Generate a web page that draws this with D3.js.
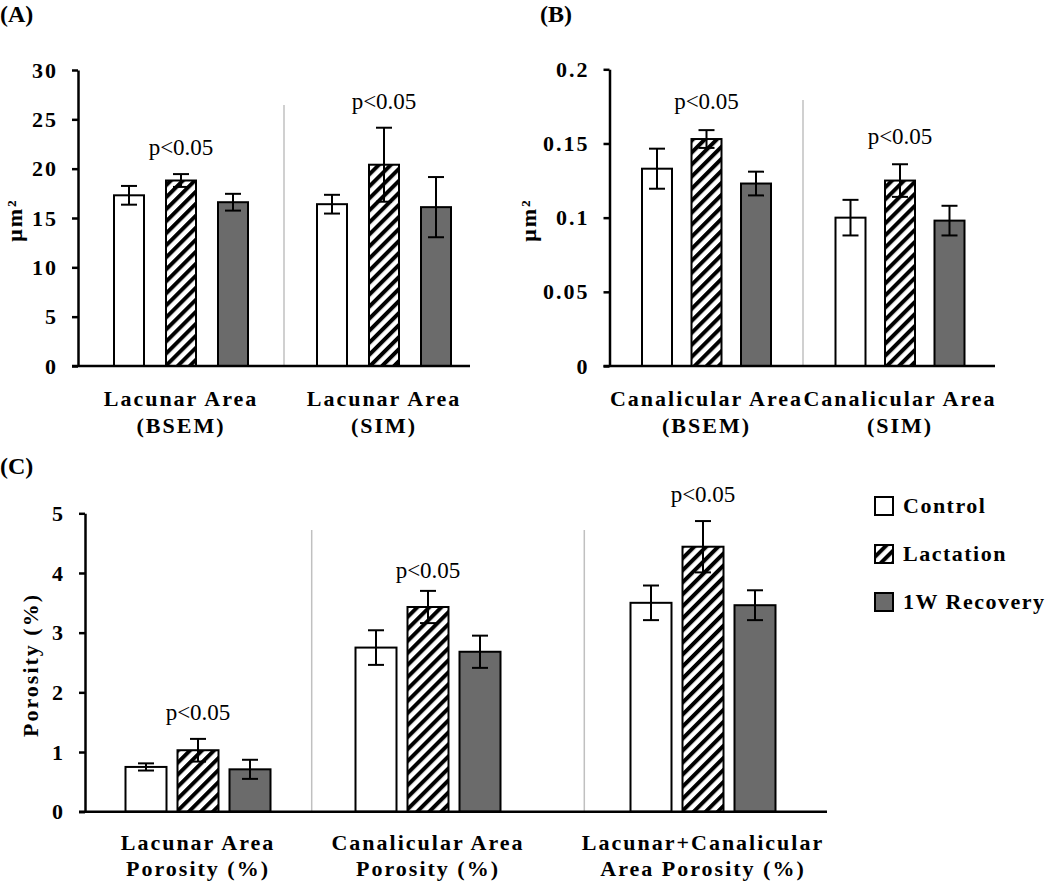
<!DOCTYPE html>
<html><head><meta charset="utf-8">
<script src="https://cdn.jsdelivr.net/npm/d3@7"></script>
<style>
body{margin:0;background:#fff}
svg text{font-family:"Liberation Serif","Times New Roman",serif;fill:#000}
</style></head><body>
<svg id="chart" width="1050" height="886"></svg>
<script>
// ---------- DATA ----------
const series = ["Control", "Lactation", "1W Recovery"];

// Panel A
const catsA = [["Lacunar Area", "(BSEM)"], ["Lacunar Area", "(SIM)"]];
const controlA = [17.3, 16.4];
const lactationA = [18.8, 20.4];
const recoveryA = [16.6, 16.1];
const controlErrA = [0.95, 0.95];
const lactationErrA = [0.65, 3.75];
const recoveryErrA = [0.85, 3.05];
const ticksA = [0, 5, 10, 15, 20, 25, 30];
const sigA = ["p<0.05", "p<0.05"];

// Panel B
const catsB = [["Canalicular Area", "(BSEM)"], ["Canalicular Area", "(SIM)"]];
const controlB = [0.133, 0.100];
const lactationB = [0.153, 0.125];
const recoveryB = [0.123, 0.098];
const controlErrB = [0.0135, 0.012];
const lactationErrB = [0.006, 0.011];
const recoveryErrB = [0.008, 0.010];
const ticksB = [0, 0.05, 0.1, 0.15, 0.2];
const sigB = ["p<0.05", "p<0.05"];

// Panel C
const catsC = [["Lacunar Area", "Porosity (%)"], ["Canalicular Area", "Porosity (%)"], ["Lacunar+Canalicular", "Area Porosity (%)"]];
const controlC = [0.75, 2.75, 3.50];
const lactationC = [1.03, 3.43, 4.44];
const recoveryC = [0.71, 2.68, 3.46];
const controlErrC = [0.06, 0.29, 0.29];
const lactationErrC = [0.19, 0.27, 0.43];
const recoveryErrC = [0.16, 0.27, 0.25];
const ticksC = [0, 1, 2, 3, 4, 5];
const sigC = ["p<0.05", "p<0.05", "p<0.05"];

// ---------- LAYOUT ----------
const layoutA = {label: "(A)", labelX: 0, labelY: 22, title: "μm²", titleX: 22, titleY: 220,
  axisX: 78, top: 70, bottom: 366, xEnd: 470, centers: [181, 384], seps: [284], sepTop: 105,
  barW: 30, step: 52, catBase: [406, 433], sigGap: [19, 19]};
const layoutB = {label: "(B)", labelX: 540, labelY: 22, title: "μm²", titleX: 536, titleY: 220,
  axisX: 609.5, top: 69.3, bottom: 366, xEnd: 995, centers: [706.5, 900], seps: [803], sepTop: 100,
  barW: 30, step: 49.5, catBase: [406, 433], sigGap: [21, 20]};
const layoutC = {label: "(C)", labelX: 0, labelY: 474, title: "Porosity (%)", titleX: 38, titleY: 665,
  axisX: 85, top: 513.3, bottom: 811.7, xEnd: 827, centers: [198, 428, 703], seps: [311.7, 584.3], sepTop: 530,
  barW: 41, step: 52, catBase: [850, 876], sigGap: [19, 13, 19]};

const fills = {"Control": "#ffffff", "Lactation": "url(#hatch)", "1W Recovery": "#6b6b6b"};

const svg = d3.select("#chart");
const defs = svg.append("defs");
const pat = defs.append("pattern").attr("id", "hatch").attr("patternUnits", "userSpaceOnUse")
  .attr("width", 8.5).attr("height", 8.5).attr("patternTransform", "rotate(45)");
pat.append("rect").attr("width", 8.5).attr("height", 8.5).attr("fill", "#fff");
pat.append("rect").attr("width", 4).attr("height", 8.5).attr("fill", "#000");

function drawPanel(cfg, cats, means, errs, ticks, sig) {
  const g = svg.append("g");
  const idx = cats.map((c, i) => i);
  const x = d3.scaleOrdinal().domain(idx).range(cfg.centers);
  const off = d3.scaleBand().domain(series).range([-1.5 * cfg.step, 1.5 * cfg.step]);
  const y = d3.scaleLinear().domain([0, d3.max(ticks)]).range([cfg.bottom, cfg.top]);

  // panel label
  g.append("text").attr("x", cfg.labelX).attr("y", cfg.labelY)
    .attr("font-size", 24).attr("font-weight", "bold").text(cfg.label);

  // separators
  g.selectAll(".sep").data(cfg.seps).join("line")
    .attr("x1", d => d).attr("x2", d => d).attr("y1", cfg.sepTop).attr("y2", y(0))
    .attr("stroke", "#c0c0c0").attr("stroke-width", 1.5);

  const rows = [];
  series.forEach((s, si) => idx.forEach(i => rows.push({s, i, v: means[si][i], e: errs[si][i]})));

  const bx = d => x(d.i) + off(d.s) + (off.bandwidth() - cfg.barW) / 2;
  const cx = d => x(d.i) + off(d.s) + off.bandwidth() / 2;

  g.selectAll(".bar").data(rows).join("rect")
    .attr("x", bx).attr("width", cfg.barW)
    .attr("y", d => y(d.v)).attr("height", d => y(0) - y(d.v))
    .attr("fill", d => fills[d.s]).attr("stroke", "#000").attr("stroke-width", 2);

  // error bars
  const eg = g.selectAll(".err").data(rows).join("g");
  const cap = 16;
  eg.append("line").attr("x1", cx).attr("x2", cx)
    .attr("y1", d => y(d.v - d.e)).attr("y2", d => y(d.v + d.e))
    .attr("stroke", "#000").attr("stroke-width", 2);
  eg.append("line").attr("x1", d => cx(d) - cap / 2).attr("x2", d => cx(d) + cap / 2)
    .attr("y1", d => y(d.v + d.e)).attr("y2", d => y(d.v + d.e))
    .attr("stroke", "#000").attr("stroke-width", 2);
  eg.append("line").attr("x1", d => cx(d) - cap / 2).attr("x2", d => cx(d) + cap / 2)
    .attr("y1", d => y(d.v - d.e)).attr("y2", d => y(d.v - d.e))
    .attr("stroke", "#000").attr("stroke-width", 2);

  // significance labels above lactation bar
  const lact = rows.filter(d => d.s === "Lactation");
  g.selectAll(".sig").data(lact).join("text")
    .attr("x", cx).attr("y", d => y(d.v + d.e) - cfg.sigGap[d.i])
    .attr("text-anchor", "middle").attr("font-size", 23).text(d => sig[d.i]);

  // y axis
  const ax = g.append("g").attr("transform", `translate(${cfg.axisX},0)`)
    .call(d3.axisLeft(y).tickValues(ticks).tickSize(6).tickSizeOuter(0).tickPadding(14).tickFormat(d => String(d)));
  ax.attr("font-family", null).attr("font-size", null);
  ax.select(".domain").attr("stroke", "#000").attr("stroke-width", 2.5);
  ax.selectAll(".tick line").attr("stroke", "#000").attr("stroke-width", 2.5);
  ax.selectAll(".tick text").attr("font-size", 22).attr("font-weight", "bold")
    .attr("letter-spacing", "2px").attr("fill", "#000");

  // x axis line
  g.append("line").attr("x1", cfg.axisX - 6).attr("x2", cfg.xEnd).attr("y1", y(0)).attr("y2", y(0))
    .attr("stroke", "#000").attr("stroke-width", 2.5);

  // category labels
  const cl = g.selectAll(".cat").data(idx).join("text")
    .attr("text-anchor", "middle").attr("font-size", 22).attr("font-weight", "bold")
    .attr("letter-spacing", "2px");
  cl.each(function (i) {
    const t = d3.select(this);
    cats[i].forEach((line, li) => t.append("tspan").attr("x", x(i)).attr("y", cfg.catBase[li]).text(line));
  });

  // y title
  g.append("text").attr("transform", `translate(${cfg.titleX},${cfg.titleY}) rotate(-90)`)
    .attr("text-anchor", "middle").attr("font-size", 22).attr("font-weight", "bold")
    .attr("letter-spacing", "2px").text(cfg.title);
}

drawPanel(layoutA, catsA, [controlA, lactationA, recoveryA], [controlErrA, lactationErrA, recoveryErrA], ticksA, sigA);
drawPanel(layoutB, catsB, [controlB, lactationB, recoveryB], [controlErrB, lactationErrB, recoveryErrB], ticksB, sigB);
drawPanel(layoutC, catsC, [controlC, lactationC, recoveryC], [controlErrC, lactationErrC, recoveryErrC], ticksC, sigC);

// legend
const legendY = d3.scalePoint().domain(series).range([506, 602]);
const lg = svg.append("g").selectAll("g").data(series).join("g")
  .attr("transform", d => `translate(875,${legendY(d)})`);
lg.append("rect").attr("x", 0).attr("y", -9).attr("width", 18).attr("height", 18)
  .attr("fill", d => fills[d]).attr("stroke", "#000").attr("stroke-width", 2);
lg.append("text").attr("x", 28).attr("y", 7).attr("font-size", 22).attr("font-weight", "bold")
  .attr("letter-spacing", "1.5px").text(d => d);
</script>
</body></html>
